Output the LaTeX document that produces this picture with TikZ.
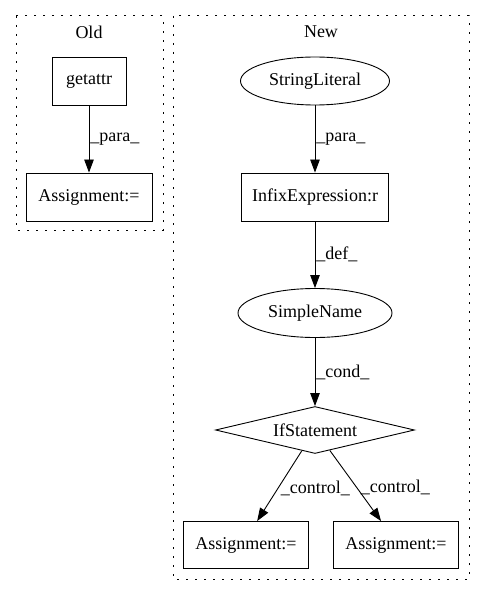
\documentclass[tikz,border=0pt]{standalone}
\usepackage{fontspec}
\setmainfont{Liberation Serif}
\usetikzlibrary{shapes.geometric,arrows.meta}

\begin{document}
\begin{tikzpicture}[x=1pt,y=-1pt,
  every node/.style={font=\fontsize{18}{21}\selectfont},
  box/.style={draw,line width=0.9pt,rectangle,inner sep=0pt,minimum height=48pt},
  oval/.style={draw,line width=0.9pt,ellipse,inner sep=0pt,minimum height=48pt},
  cond/.style={draw,line width=0.9pt,diamond,aspect=4.2,inner sep=0pt,minimum width=199pt,minimum height=47pt},
  cluster/.style={line width=1pt,dash pattern=on 2pt off 7pt},
  edge/.style={line width=0.9pt,-{Stealth[inset=0pt,length=13pt,width=9.5pt]}},
  lbl/.style={anchor=west,inner sep=1pt}]
\useasboundingbox (0,0) rectangle (485,596);
% clusters
\draw[cluster] (16,16) rectangle (163,230);
\draw[cluster] (173,16) rectangle (469,579);
\node (old) at (89,32) {Old};
\node (new) at (321,32) {New};
% old part
\node[box,minimum width=74pt] (getattr) at (89,81) {getattr};
\node[box,minimum width=126pt] (assignold) at (89,197) {Assignment:=};
\draw[edge] (getattr) -- node[lbl]{\_para\_} (assignold);
% new part
\node[oval,minimum width=149pt] (strlit) at (315,81) {StringLiteral};
\node[box,minimum width=147pt] (infix) at (315,197) {InfixExpression:r};
\node[oval,minimum width=154pt,minimum height=49pt] (simplename) at (315,313) {SimpleName};
\node[cond] (ifstmt) at (315,430) {IfStatement};
\node[box,minimum width=125pt,minimum height=47pt] (assignleft) at (246,545) {Assignment:=};
\node[box,minimum width=125pt,minimum height=47pt] (assignright) at (396,545) {Assignment:=};
\draw[edge] (strlit) -- node[lbl]{\_para\_} (infix);
\draw[edge] (infix) -- node[lbl]{\_def\_} (simplename);
\draw[edge] (simplename) -- node[lbl]{\_cond\_} (ifstmt);
\draw[edge] (ifstmt) -- node[lbl,yshift=-2pt]{\_control\_} (assignleft.65);
\draw[edge] (ifstmt) -- node[lbl,xshift=4pt,yshift=-2pt]{\_control\_} (assignright.122);
\end{tikzpicture}
\end{document}
